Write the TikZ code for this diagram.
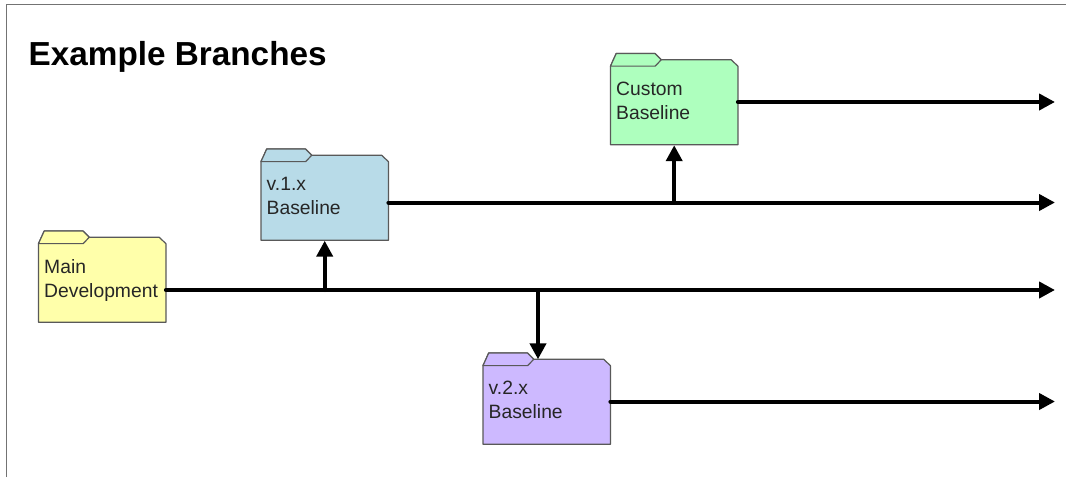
\documentclass[tikz,border=0pt]{standalone}
\usepackage{fontspec}
\setmainfont{Liberation Sans}
\usetikzlibrary{arrows.meta}
\tikzset{
  x=1pt,y=-1pt,
  frame/.style={draw=black!55,line width=1.6pt},
  foldershape/.style={draw=black!65,line width=1.2pt,line join=round},
  folderbody/.style={minimum width=127.4pt,minimum height=85.4pt,inner sep=0pt,outer sep=0pt,anchor=north west},
  foldertext/.style={font=\fontsize{19.3}{23.7}\selectfont,text=black!85,align=left,anchor=north west,inner sep=0pt},
  flow/.style={line width=4pt,line cap=round,-{Triangle[length=16pt,width=16pt]}},
  title/.style={font=\bfseries\fontsize{33.3}{38}\selectfont,anchor=base west,inner sep=0pt},
}
% name, left x, tab-top y, fill, text
\newcommand{\folderbox}[5]{%
  \node[folderbody] (#1) at (#2,#3+6.3) {};
  \path[foldershape,fill=#4] (#2,#3+12.6) -- (#2,#3+91.3) -- (#2+127.4,#3+91.3) -- (#2+127.4,#3+12.6) -- (#2+120.7,#3+6.3) -- (#2+50.7,#3+6.3) -- (#2+44.5,#3) -- (#2+5.7,#3) -- cycle;
  \path[foldershape,fill=#4] (#2,#3+12.6) -- (#2+44.7,#3+12.6) -- (#2+50.7,#3+6.3) -- (#2+44.5,#3) -- (#2+5.7,#3) -- cycle;
  \node[foldertext] (#1t) at (#2+5.5,#3+28.3) {#5};
}
\definecolor{fy}{HTML}{FFFFAA}
\definecolor{fg}{HTML}{AEFFBE}
\definecolor{fb}{HTML}{B8DBE8}
\definecolor{fp}{HTML}{CDB9FF}
\begin{document}
\begin{tikzpicture}
\useasboundingbox (0,0) rectangle (1066,477);
\coordinate (fa) at (6.5,477);
\coordinate (fb) at (6.5,4.5);
\coordinate (fc) at (1066,4.5);
\draw[frame] (fa) -- (fb) -- (fc);
\node[title] (ttl) at (28.5,65) {Example Branches};
\folderbox{main}{38.5}{231}{fy}{Main\\Development}
\folderbox{vone}{261}{149}{fb}{v.1.x\\Baseline}
\folderbox{vtwo}{483}{353}{fp}{v.2.x\\Baseline}
\folderbox{cust}{610.5}{53.5}{fg}{Custom\\Baseline}
\coordinate (e0) at (1055,102);
\coordinate (e1) at (1055,202.5);
\coordinate (e2) at (1055,290);
\coordinate (e3) at (1055,401.5);
\coordinate (bb) at (538,290);
\draw[flow] (main.east |- e2) -- (e2);
\draw[flow] (vone.east |- e1) -- (e1);
\draw[flow] (cust.east |- e0) -- (e0);
\draw[flow] (vtwo.east |- e3) -- (e3);
\draw[flow] (vone.south |- e2) -- (vone.south);
\draw[flow] (cust.south |- e1) -- (cust.south);
\draw[flow] (bb) -- (bb |- vtwo.north);
\end{tikzpicture}
\end{document}
